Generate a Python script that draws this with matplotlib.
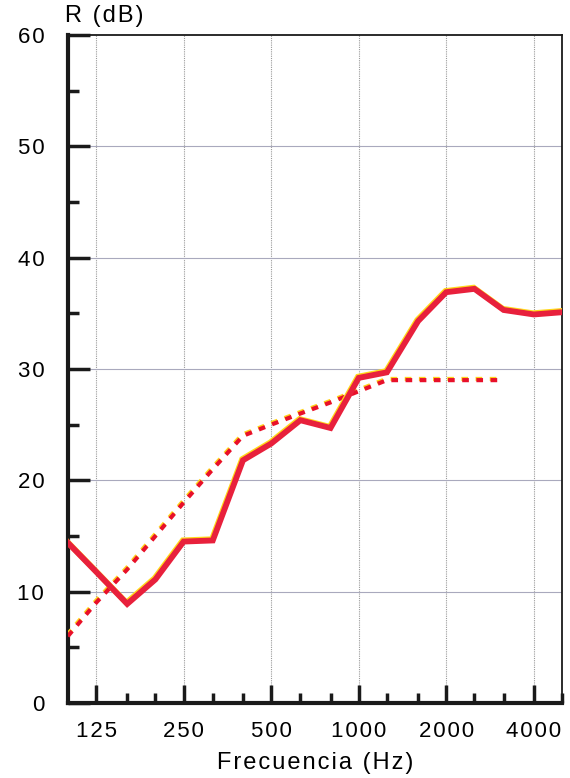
import matplotlib
matplotlib.use("Agg")
import matplotlib.pyplot as plt
import matplotlib.transforms as mtransforms

plt.rcParams["font.family"] = ["Liberation Sans", "DejaVu Sans"]

# third-octave bands (Hz)
freqs = [100, 125, 160, 200, 250, 315, 400, 500, 630, 800,
         1000, 1250, 1600, 2000, 2500, 3150, 4000, 5000]
# measured sound reduction index R (dB)
r_measured = [14.4, 11.8, 8.9, 11.1, 14.5, 14.6, 21.8, 23.3, 25.4, 24.7,
              29.2, 29.7, 34.3, 36.9, 37.2, 35.3, 34.9, 35.1]
# shifted reference curve (100 - 3150 Hz)
ref_freqs = [100, 125, 160, 200, 250, 315, 400, 500, 630, 800,
             1000, 1250, 1600, 2000, 2500, 3150]
r_reference = [6, 9, 12, 15, 18, 21, 24, 25, 26, 27, 28, 29, 29, 29, 29, 29]

octave_ticks = [125, 250, 500, 1000, 2000, 4000]
octave_labels = ["125", "250", "500", "1000", "2000", "4000"]
y_ticks = [0, 10, 20, 30, 40, 50, 60]


def spaced(s):
    # wide letter spacing like the scanned original
    return "\u200a".join(s)


fig = plt.figure(figsize=(5.7, 7.78), dpi=100)
ax = fig.add_axes([0.119, 0.0964, 0.867, 0.8586])

ax.set_xscale("log", base=2)
ax.set_xlim(100, 5000)
ax.set_ylim(0, 60)

# grid
for f in octave_ticks:
    ax.axvline(f, color="#9a9a9a", lw=0.8, ls=(0, (1, 1)), zorder=1)
for y in y_ticks[1:-1]:
    ax.axhline(y, color="#a9a9bd", lw=0.8, zorder=1)

# dotted reference curve: red dots with a yellow fringe
shift_up = mtransforms.offset_copy(ax.transData, fig=fig, x=-0.8, y=1.2, units="dots")
ax.plot(ref_freqs, r_reference, color="#ffd21a", lw=3,
        ls=(0, (1.6, 1.8)), transform=shift_up, zorder=3)
ax.plot(ref_freqs, r_reference, color="#e8102a", lw=3,
        ls=(0, (1.6, 1.8)), zorder=3)

# measured curve: yellow edge under red
ax.plot(freqs, r_measured, color="#ffd81a", lw=4.2, transform=shift_up,
        solid_joinstyle="miter", zorder=4)
ax.plot(freqs, r_measured, color="#e8203c", lw=4.2,
        solid_joinstyle="miter", zorder=5)

# spines
ax.spines["left"].set_linewidth(3)
ax.spines["bottom"].set_linewidth(3)
ax.spines["top"].set_linewidth(1.3)
ax.spines["right"].set_linewidth(1.3)
for s in ax.spines.values():
    s.set_color("#1a1a1a")

ax.set_xticks(octave_ticks)
ax.set_xticklabels([spaced(t) for t in octave_labels])
ax.set_xticks(freqs[1:-1] + [5000], minor=True)
ax.xaxis.set_minor_formatter(matplotlib.ticker.NullFormatter())
ax.tick_params(axis="x", which="major", direction="in", length=13, width=2.5,
               color="#1a1a1a", labelsize=16, pad=13)
ax.tick_params(axis="x", which="minor", direction="in", length=7, width=2.5,
               color="#1a1a1a")

ax.set_yticks(y_ticks)
ax.set_yticklabels([spaced(str(t)) for t in y_ticks])
ax.set_yticks(range(5, 60, 10), minor=True)
ax.tick_params(axis="y", which="major", direction="in", length=16, width=2.5,
               color="#1a1a1a", labelsize=16, pad=17)
ax.tick_params(axis="y", which="minor", direction="in", length=8, width=2.5,
               color="#1a1a1a")

ax.set_xlabel(spaced("Frecuencia (Hz)"), fontsize=17, labelpad=7)
ax.text(-0.005, 1.012, spaced("R (dB)"), transform=ax.transAxes, fontsize=17,
        ha="left", va="bottom")

fig.savefig("out.png", dpi=100)
